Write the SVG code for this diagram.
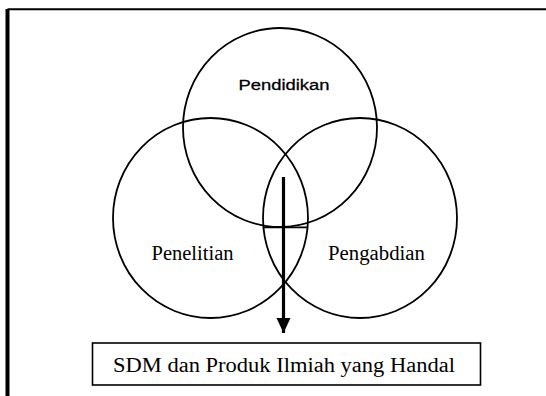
<svg xmlns="http://www.w3.org/2000/svg" width="546" height="396" viewBox="0 0 546 396">
<style>
.c{fill:none;stroke:#000;stroke-width:1.8}
.serif{font-family:"Liberation Serif","Times New Roman",serif;fill:#000}
.sans{font-family:"Liberation Sans",Arial,sans-serif;fill:#000}
</style>
<defs>
<marker id="ah" markerUnits="userSpaceOnUse" markerWidth="16" markerHeight="16" viewBox="0 0 16 16" refX="15" refY="8" orient="auto">
<path d="M0,1 L15,8 L0,15 Z" fill="#000"/>
</marker>
</defs>
<rect width="546" height="396" fill="#fff"/>
<g id="frame">
<line x1="7.5" y1="9.3" x2="546" y2="9.3" stroke="#000" stroke-width="2"/>
<line x1="7.5" y1="9" x2="7.5" y2="396" stroke="#000" stroke-width="4"/>
</g>
<g id="pendidikan">
<ellipse class="c" cx="280" cy="127.5" rx="97" ry="99.5"/>
<line class="c" x1="263" y1="227.3" x2="308" y2="227.3"/>
<text class="sans" x="284" y="90" font-size="15.5" text-anchor="middle" textLength="91" lengthAdjust="spacingAndGlyphs" stroke="#000" stroke-width="0.3">Pendidikan</text>
</g>
<g id="penelitian">
<ellipse class="c" cx="210.5" cy="218" rx="97.5" ry="100"/>
<text class="serif" x="192.5" y="260" font-size="20" text-anchor="middle" textLength="82" lengthAdjust="spacingAndGlyphs">Penelitian</text>
</g>
<g id="pengabdian">
<ellipse class="c" cx="360" cy="218" rx="97" ry="100"/>
<text class="serif" x="376.5" y="260" font-size="20.5" text-anchor="middle" textLength="97" lengthAdjust="spacingAndGlyphs">Pengabdian</text>
</g>
<g id="hasil">
<rect x="92.5" y="343" width="388" height="42" fill="none" stroke="#000" stroke-width="1.6"/>
<text class="serif" x="284" y="371.5" font-size="20.5" text-anchor="middle" textLength="342" lengthAdjust="spacingAndGlyphs">SDM dan Produk Ilmiah yang Handal</text>
</g>
<g id="connectors">
<line x1="283.5" y1="177" x2="283.5" y2="333" stroke="#000" stroke-width="3.2" marker-end="url(#ah)"/>
</g>
</svg>
